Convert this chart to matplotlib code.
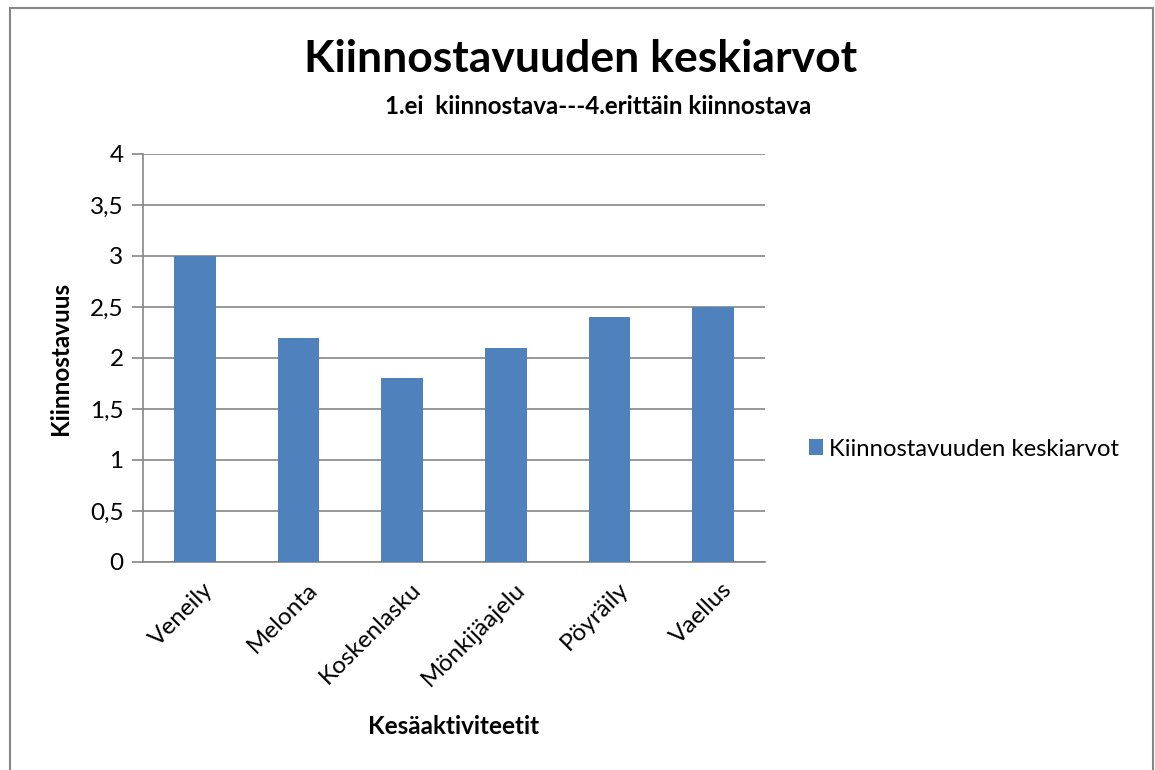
import matplotlib.pyplot as plt
from matplotlib.patches import Rectangle
from matplotlib.ticker import FuncFormatter
from matplotlib.transforms import ScaledTranslation

plt.rcParams["font.family"] = ["Lato", "DejaVu Sans"]

categories = ["Veneily", "Melonta", "Koskenlasku", "Mönkijäajelu", "Pöyräily", "Vaellus"]
averages = [3.0, 2.2, 1.8, 2.1, 2.4, 2.5]
y_ticks = [0, 0.5, 1, 1.5, 2, 2.5, 3, 3.5, 4]

series_name = "Kiinnostavuuden keskiarvot"
bar_color = "#4F81BD"
grid_color = "#868686"

### mean interest per summer activity
if __name__ == "__main__":
    fig = plt.figure(figsize=(11.55, 7.7), dpi=100)
    ax = fig.add_axes([143 / 1155, 1 - 562 / 770, (765 - 143) / 1155, (562 - 154) / 770])

    x = range(len(categories))
    ax.bar(x, averages, width=0.4, color=bar_color, zorder=3, label=series_name)

    ax.set_xlim(-0.5, len(categories) - 0.5)
    ax.set_ylim(0, 4)
    ax.set_yticks(y_ticks)
    ax.yaxis.set_major_formatter(FuncFormatter(lambda v, p: f"{v:g}".replace(".", ",")))
    ax.grid(axis="y", color=grid_color, linewidth=1.2, zorder=0)

    ax.set_xticks(list(x))
    ax.set_xticklabels(categories, rotation=45, ha="right", rotation_mode="anchor")
    ax.tick_params(axis="x", length=0, labelsize=17.5, pad=12)
    ax.tick_params(axis="y", length=8, width=1.2, color=grid_color, labelsize=17.5, pad=6)

    # nudge the rotated labels a bit to the right, as in the original
    shift = ScaledTranslation(8 / 100, 0, fig.dpi_scale_trans)
    for label in ax.get_xticklabels():
        label.set_transform(label.get_transform() + shift)

    for side in ["top", "right"]:
        ax.spines[side].set_visible(False)
    for side in ["left", "bottom"]:
        ax.spines[side].set_color(grid_color)
        ax.spines[side].set_linewidth(1.2)

    fig.text(60 / 1155, 1 - 358 / 770, "Kiinnostavuus", rotation=90, ha="center",
             va="center", fontsize=17.5, fontweight="bold")
    fig.text(454 / 1155, 1 - 726 / 770, "Kesäaktiviteetit", ha="center", va="center",
             fontsize=17.5, fontweight="bold")

    fig.text(581 / 1155, 1 - 59 / 770, "Kiinnostavuuden keskiarvot", ha="center",
             va="center", fontsize=32, fontweight="bold")
    fig.text(598 / 1155, 1 - 106 / 770, "1.ei  kiinnostava---4.erittäin kiinnostava",
             ha="center", va="center", fontsize=17.4, fontweight="bold")

    fig.legend(loc="center left", bbox_to_anchor=(787 / 1155, 1 - 449 / 770), frameon=False,
               fontsize=17.2, handlelength=0.6, handleheight=0.6, handletextpad=0.25)

    # outer chart frame
    fig.patches.append(Rectangle((10 / 1155, -0.01), (1153 - 10) / 1155, 1 - 8 / 770 + 0.01,
                                 transform=fig.transFigure, fill=False,
                                 edgecolor=grid_color, linewidth=1.5))

    fig.savefig("out.png", dpi=100)
